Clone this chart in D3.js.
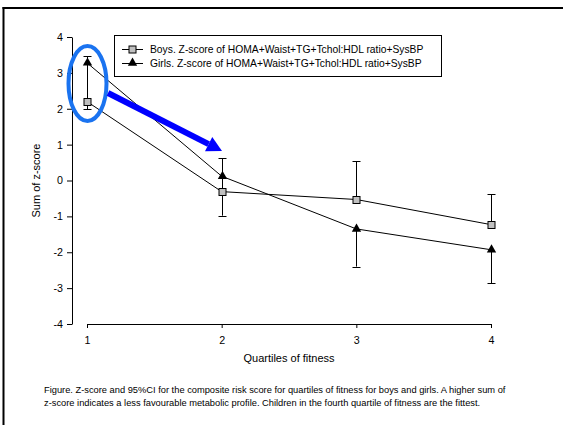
<!DOCTYPE html>
<html><head><meta charset="utf-8">
<script src="https://cdn.jsdelivr.net/npm/d3@7"></script>
<style>body{margin:0;background:#fff}svg{display:block}text{font-family:"Liberation Sans",Arial,sans-serif;fill:#000}</style>
</head><body>
<script>
const quartiles = [1, 2, 3, 4];
const boys = [2.20, -0.31, -0.53, -1.23];
const girls = [3.28, 0.12, -1.35, -1.93];
const boysCIHigh = [3.46, 0.62, 0.54, -0.39];
const girlsCILow = [1.98, -0.98, -2.40, -2.87];
const yTicks = [-4, -3, -2, -1, 0, 1, 2, 3, 4];
const legendLabels = ["Boys. Z-score of HOMA+Waist+TG+Tchol:HDL ratio+SysBP", "Girls. Z-score of HOMA+Waist+TG+Tchol:HDL ratio+SysBP"];
const caption = ["Figure. Z-score and 95%CI for the composite risk score for quartiles of fitness for boys and girls. A higher sum of",
  "z-score indicates a less favourable metabolic profile. Children in the fourth quartile of fitness are the fittest."];

const W = 563, H = 425;
const FONT = "Liberation Sans, Arial, sans-serif";
const svg = d3.select("body").append("svg").attr("width", W).attr("height", H);
svg.append("rect").attr("width", W).attr("height", H).attr("fill", "#fff");
// page border (left + top)
svg.append("line").attr("x1", 3.5).attr("x2", 3.5).attr("y1", 7).attr("y2", H).attr("stroke", "#000").attr("stroke-width", 2);
svg.append("line").attr("x1", 2.5).attr("x2", W).attr("y1", 8).attr("y2", 8).attr("stroke", "#000").attr("stroke-width", 2);

const x = d3.scaleLinear().domain([1, 4]).range([87, 491]);
const y = d3.scaleLinear().domain([-4, 4]).range([324, 37]);
const axX = 72;

// y axis
const gy = svg.append("g").attr("transform", `translate(${axX},0)`)
  .call(d3.axisLeft(y).tickValues(yTicks).tickFormat(d => String(d)).tickSize(5).tickPadding(4).tickSizeOuter(0));
gy.select(".domain").attr("stroke", "#000");
gy.selectAll("text").attr("font-size", 10.7).attr("font-family", FONT);
// x axis
const gx = svg.append("g").attr("transform", `translate(0,${y(-4)})`)
  .call(d3.axisBottom(x).tickValues(quartiles).tickFormat(d => String(d)).tickSize(4).tickPadding(8).tickSizeOuter(0));
gx.selectAll("text").attr("font-size", 10.7).attr("font-family", FONT);

svg.append("text").attr("transform", `translate(40,${y(0)}) rotate(-90)`).attr("text-anchor", "middle")
  .attr("font-size", 11).text("Sum of z-score");
svg.append("text").attr("x", (x(1) + x(4)) / 2).attr("y", 362).attr("text-anchor", "middle")
  .attr("font-size", 11).text("Quartiles of fitness");

// error bars
function ebar(vals, ends) {
  const g = svg.append("g").attr("stroke", "#000").attr("stroke-width", 1);
  quartiles.forEach((q, i) => {
    const cx = Math.round(x(q)) + 0.5;
    g.append("line").attr("x1", cx).attr("x2", cx).attr("y1", y(vals[i])).attr("y2", y(ends[i]));
    g.append("line").attr("x1", cx - 4).attr("x2", cx + 4).attr("y1", Math.round(y(ends[i])) + 0.5).attr("y2", Math.round(y(ends[i])) + 0.5);
  });
}
ebar(boys, boysCIHigh);
ebar(girls, girlsCILow);

const line = d3.line().x((d, i) => x(quartiles[i])).y(d => y(d));
svg.append("path").datum(boys).attr("d", line).attr("fill", "none").attr("stroke", "#000").attr("stroke-width", 1);
svg.append("path").datum(girls).attr("d", line).attr("fill", "none").attr("stroke", "#000").attr("stroke-width", 1);

const tri = d3.symbol().type(d3.symbolTriangle).size(38);
svg.append("g").selectAll("rect").data(boys).join("rect")
  .attr("x", (d, i) => Math.round(x(quartiles[i])) - 3).attr("y", d => Math.round(y(d)) - 3.5)
  .attr("width", 7).attr("height", 7).attr("fill", "#c0c0c0").attr("stroke", "#000").attr("stroke-width", 1);
svg.append("g").selectAll("path").data(girls).join("path")
  .attr("transform", (d, i) => `translate(${Math.round(x(quartiles[i])) + 0.5},${y(d)})`).attr("d", tri).attr("fill", "#000");

// legend
const lg = svg.append("g");
lg.append("rect").attr("x", 114.5).attr("y", 35.5).attr("width", 327).attr("height", 41).attr("fill", "#fff").attr("stroke", "#000");
legendLabels.forEach((t, i) => {
  const ly = 49 + i * 14;
  lg.append("line").attr("x1", 122).attr("x2", 143).attr("y1", ly + 0.5).attr("y2", ly + 0.5).attr("stroke", "#000");
  if (i === 0) lg.append("rect").attr("x", 129).attr("y", ly - 3).attr("width", 7).attr("height", 7).attr("fill", "#c0c0c0").attr("stroke", "#000");
  else lg.append("path").attr("transform", `translate(132.5,${ly})`).attr("d", tri).attr("fill", "#000");
  lg.append("text").attr("x", 150).attr("y", ly + 4).attr("font-size", 10.3).text(t);
});

// annotations
svg.append("ellipse").attr("cx", 87.5).attr("cy", 83.5).attr("rx", 19).attr("ry", 37.5)
  .attr("fill", "none").attr("stroke", "#1a73f0").attr("stroke-width", 4);
const ax0 = [108, 93], ax1 = [222, 151];
const ang = Math.atan2(ax1[1] - ax0[1], ax1[0] - ax0[0]);
const hl = 15, hw = 8;
const bx = ax1[0] - hl * Math.cos(ang), by = ax1[1] - hl * Math.sin(ang);
svg.append("line").attr("x1", ax0[0]).attr("y1", ax0[1]).attr("x2", bx).attr("y2", by)
  .attr("stroke", "#0000ff").attr("stroke-width", 6);
svg.append("path").attr("d", `M${ax1[0]},${ax1[1]}L${bx + hw * Math.sin(ang)},${by - hw * Math.cos(ang)}L${bx - hw * Math.sin(ang)},${by + hw * Math.cos(ang)}Z`)
  .attr("fill", "#0000ff");

caption.forEach((t, i) => {
  svg.append("text").attr("x", 44).attr("y", 393 + i * 12.5).attr("font-size", 9.3).text(t);
});
</script>
</body></html>
